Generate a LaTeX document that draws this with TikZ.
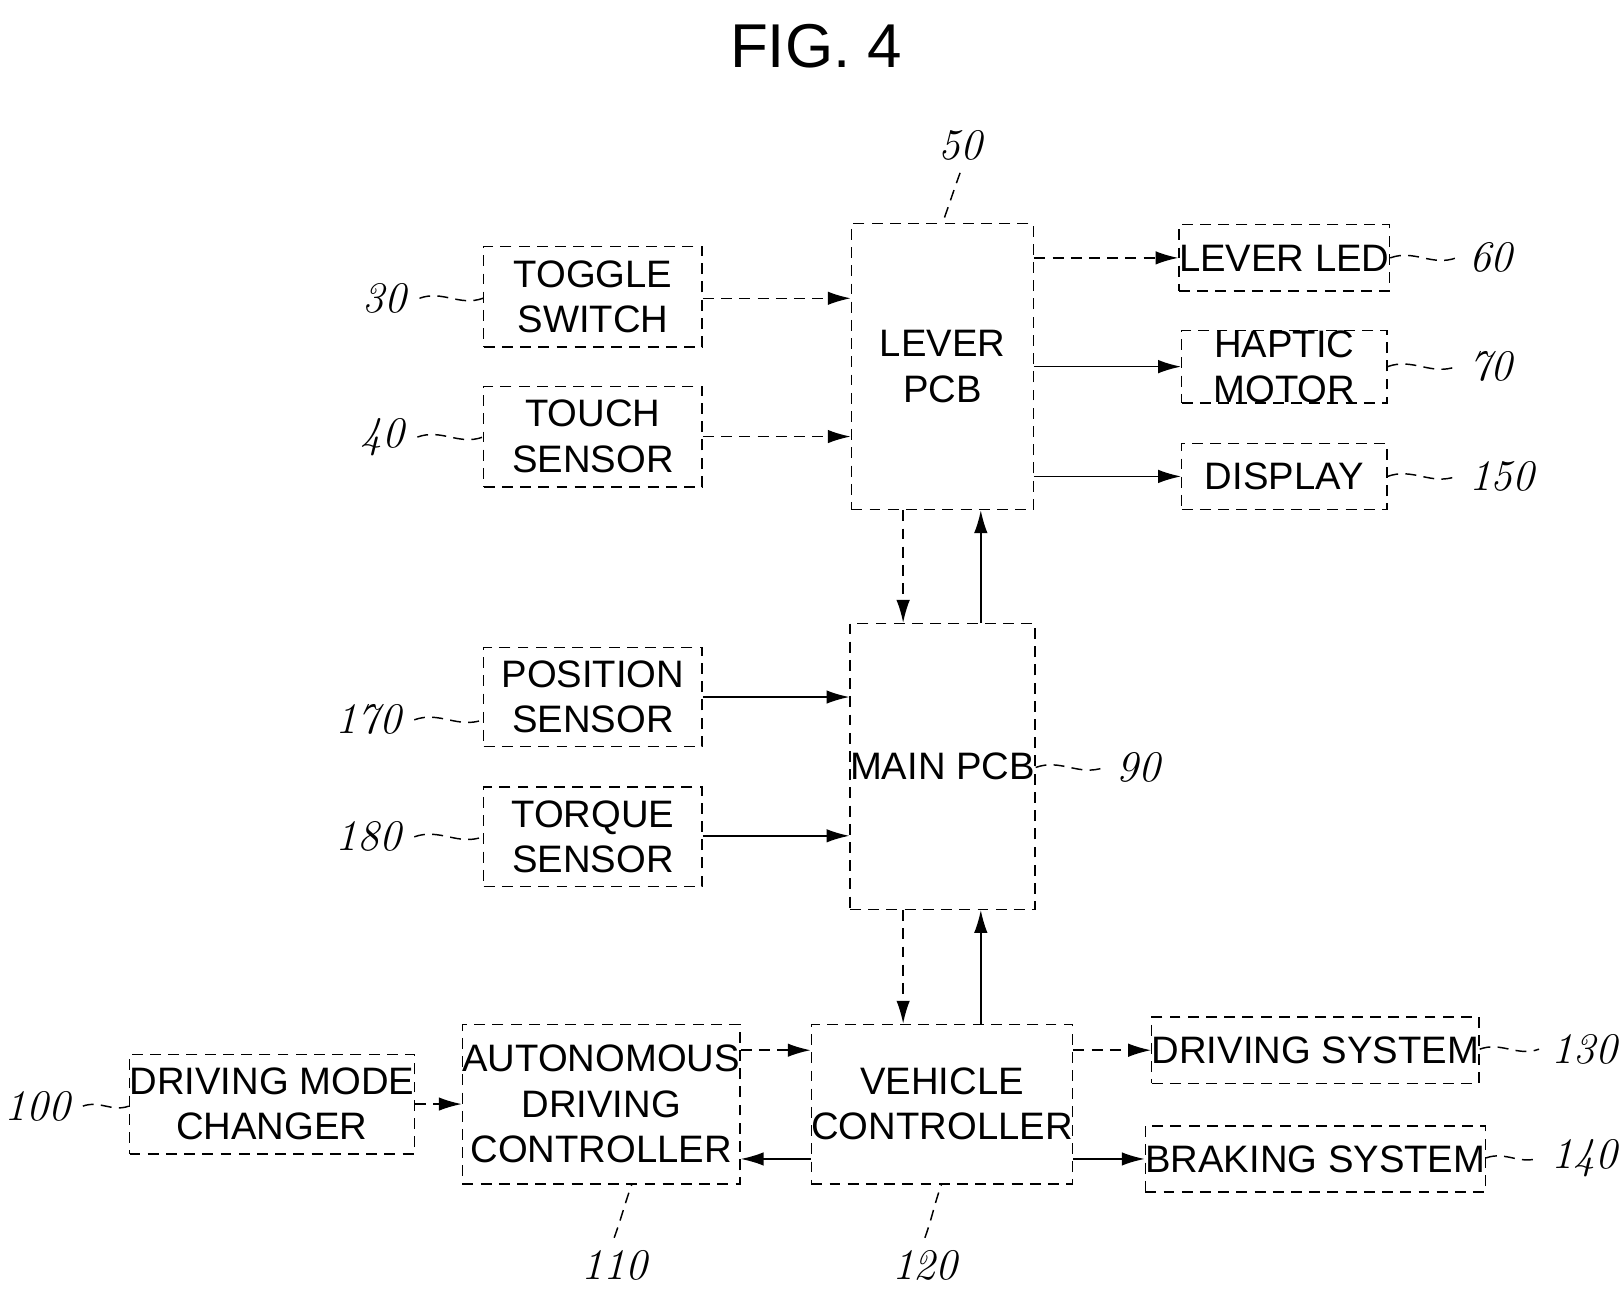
\documentclass[tikz,border=0pt]{standalone}
\usepackage{fontspec}
\setsansfont{Liberation Sans}
\usetikzlibrary{arrows.meta}
\tikzset{
  blk/.style={draw, thin, densely dashed, font=\sffamily\fontsize{10.5}{12.5}\selectfont, align=center, inner sep=0pt},
  ref/.style={font=\itshape\fontsize{12}{14}\selectfont},
  lead/.style={thin, densely dashed},
  arr/.style={-{Latex[length=2.2mm,width=1.3mm]}, thin},
  darr/.style={arr, densely dashed}
}
\newcommand{\blkbox}[6]{% name, x1, y1, x2, y2, text
  \node[blk, minimum width={(#4-#2)*0.01cm}, minimum height={(#5-#3)*0.01cm}] (#1) at ({(#2+#4)/2},{(#3+#5)/2}) {#6};}
\begin{document}
\begin{tikzpicture}[x=0.01cm, y=-0.01cm]
    \useasboundingbox (0,0) rectangle (1568,1255);
    \node[font=\sffamily\fontsize{17}{20}\selectfont] (title) at (788,45) {FIG. 4};

    \blkbox{toggle}{467}{238}{678}{335}{TOGGLE\\SWITCH}
    \blkbox{touch}{467}{373}{678}{470}{TOUCH\\SENSOR}
    \blkbox{lever}{822}{216}{998}{492}{LEVER\\PCB}
    \blkbox{led}{1141}{217}{1339}{281}{LEVER LED}
    \blkbox{haptic}{1141}{322}{1339}{386}{HAPTIC\\MOTOR}
    \blkbox{display}{1141}{428}{1339}{492}{DISPLAY}
    \blkbox{position}{467}{625}{678}{721}{POSITION\\SENSOR}
    \blkbox{torque}{467}{760}{678}{856}{TORQUE\\SENSOR}
    \blkbox{main}{822}{602}{998}{878}{MAIN PCB}
    \blkbox{changer}{146}{1018}{379}{1114}{DRIVING MODE\\CHANGER}
    \blkbox{auto}{463}{989}{698}{1143}{AUTONOMOUS\\DRIVING\\CONTROLLER}
    \blkbox{vehicle}{809}{989}{1010}{1143}{VEHICLE\\CONTROLLER}
    \blkbox{driving}{1121}{982}{1419}{1046}{DRIVING SYSTEM}
    \blkbox{braking}{1121}{1087}{1419}{1151}{BRAKING SYSTEM}

    % connectors
    \draw[darr] (toggle.east |- 0,288) -- (lever.west |- 0,288);
    \draw[darr] (touch) -- (touch -| lever.west);
    \draw[darr] (lever.east |- led) -- (led);
    \draw[arr] (lever.east |- haptic) -- (haptic);
    \draw[arr] (lever.east |- display) -- (display);
    \draw[darr] (lever.south -| 872,0) -- (main.north -| 872,0);
    \draw[arr] (main.north -| 947,0) -- (lever.south -| 947,0);
    \draw[arr] (position.east |- 0,673) -- (main.west |- 0,673);
    \draw[arr] (torque.east |- 0,807) -- (main.west |- 0,807);
    \draw[darr] (main.south -| 872,0) -- (vehicle.north -| 872,0);
    \draw[arr] (vehicle.north -| 947,0) -- (main.south -| 947,0);
    \draw[darr] (changer) -- (changer -| auto.west);
    \draw[darr] (auto.east |- 0,1014) -- (vehicle.west |- 0,1014);
    \draw[arr] (vehicle.west |- 0,1119) -- (auto.east |- 0,1119);
    \draw[darr] (vehicle.east |- driving) -- (driving);
    \draw[arr] (vehicle.east |- braking) -- (braking);

    % reference numerals
    \node[ref, anchor=east] (r30) at (405,288) {30};
    \node[ref, anchor=east] (r40) at (403,422) {40};
    \node[ref, anchor=east] (r170) at (400,695) {170};
    \node[ref, anchor=east] (r180) at (400,808) {180};
    \node[ref, anchor=east] (r100) at (80,1068) {100};
    \node[ref] (r50) at (927,140) {50};
    \node[ref, anchor=west] (r60) at (1406,249) {60};
    \node[ref, anchor=west] (r70) at (1406,354) {70};
    \node[ref, anchor=west] (r150) at (1406,460) {150};
    \node[ref, anchor=west] (r90) at (1066,741) {90};
    \node[ref, anchor=west] (r130) at (1486,1013) {130};
    \node[ref, anchor=west] (r140) at (1486,1118) {140};
    \node[ref] (r110) at (593,1222) {110};
    \node[ref] (r120) at (893,1222) {120};

    \draw[lead] (r30.east) to[out=20,in=200] (toggle.west |- r30.east);
    \draw[lead] (r40.east) to[out=20,in=200] (touch.west |- r40.east);
    \draw[lead] (r170.east) to[out=20,in=200] (position.west |- r170.east);
    \draw[lead] (r180.east) to[out=20,in=200] (torque.west |- r180.east);
    \draw[lead] (r100.east) to[out=20,in=200] (changer.west |- r100.east);
    \draw[lead] (led.east |- r60.west) to[out=20,in=200] (r60.west);
    \draw[lead] (haptic.east |- r70.west) to[out=20,in=200] (r70.west);
    \draw[lead] (display.east |- r150.west) to[out=20,in=200] (r150.west);
    \draw[lead] (main.east |- r90.west) to[out=20,in=200] (r90.west);
    \draw[lead] (driving.east |- r130.west) to[out=20,in=200] (r130.west);
    \draw[lead] (braking.east |- r140.west) to[out=20,in=200] (r140.west);
    \draw[lead] (r50.south) to[out=-110,in=70] (lever.north -| 910,0);
    \draw[lead] (r110.north) to[out=70,in=-110] (auto.south -| 610,0);
    \draw[lead] (r120.north) to[out=70,in=-110] (vehicle.south -| 909,0);
\end{tikzpicture}
\end{document}
